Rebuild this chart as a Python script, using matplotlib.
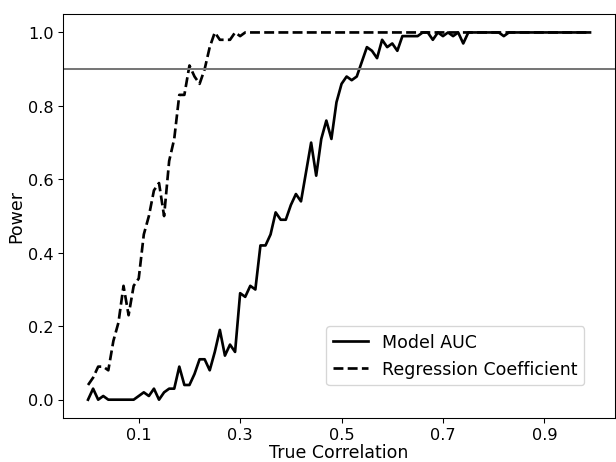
import numpy as np
import matplotlib.pyplot as plt

# true correlation grid
corr = np.round(np.arange(0, 1.0, 0.01), 2)

# power of the model AUC test
auc_power = [
    0.00, 0.03, 0.00, 0.01, 0.00, 0.00, 0.00, 0.00, 0.00, 0.00,
    0.01, 0.02, 0.01, 0.03, 0.00, 0.02, 0.03, 0.03, 0.09, 0.04,
    0.04, 0.07, 0.11, 0.11, 0.08, 0.13, 0.19, 0.12, 0.15, 0.13,
    0.29, 0.28, 0.31, 0.30, 0.42, 0.42, 0.45, 0.51, 0.49, 0.49,
    0.53, 0.56, 0.54, 0.62, 0.70, 0.61, 0.71, 0.76, 0.71, 0.81,
    0.86, 0.88, 0.87, 0.88, 0.92, 0.96, 0.95, 0.93, 0.98, 0.96,
    0.97, 0.95, 0.99, 0.99, 0.99, 0.99, 1.00, 1.00, 0.98, 1.00,
    0.99, 1.00, 0.99, 1.00, 0.97, 1.00, 1.00, 1.00, 1.00, 1.00,
    1.00, 1.00, 0.99, 1.00, 1.00, 1.00, 1.00, 1.00, 1.00, 1.00,
    1.00, 1.00, 1.00, 1.00, 1.00, 1.00, 1.00, 1.00, 1.00, 1.00,
]

# power of the regression coefficient test
coef_power = [
    0.04, 0.06, 0.09, 0.09, 0.08, 0.16, 0.21, 0.31, 0.23, 0.31,
    0.33, 0.45, 0.50, 0.57, 0.59, 0.50, 0.65, 0.71, 0.83, 0.83,
    0.91, 0.88, 0.86, 0.90, 0.96, 1.00, 0.98, 0.98, 0.98, 1.00,
    0.99, 1.00, 1.00, 1.00, 1.00, 1.00, 1.00, 1.00, 1.00, 1.00,
] + [1.00] * 60

target_power = 0.9
xtick_vals = [0.1, 0.3, 0.5, 0.7, 0.9]

fig, ax = plt.subplots(figsize=(6.4, 4.8), dpi=96.4)
ax.plot(corr, auc_power, color='black', lw=2, label='Model AUC')
ax.plot(corr, coef_power, color='black', lw=2, ls='--', label='Regression Coefficient')
ax.axhline(target_power, color='#777777', lw=1.5)

ax.set_xticks(xtick_vals)
ax.set_xlabel('True Correlation', fontsize=13, labelpad=1)
ax.set_ylabel('Power', fontsize=13, labelpad=2)
ax.tick_params(labelsize=12)
ax.legend(loc='lower right', bbox_to_anchor=(0.96, 0.06), fontsize=13)

fig.subplots_adjust(left=0.102, right=0.997, top=0.968, bottom=0.095)
fig.savefig('out.png')
